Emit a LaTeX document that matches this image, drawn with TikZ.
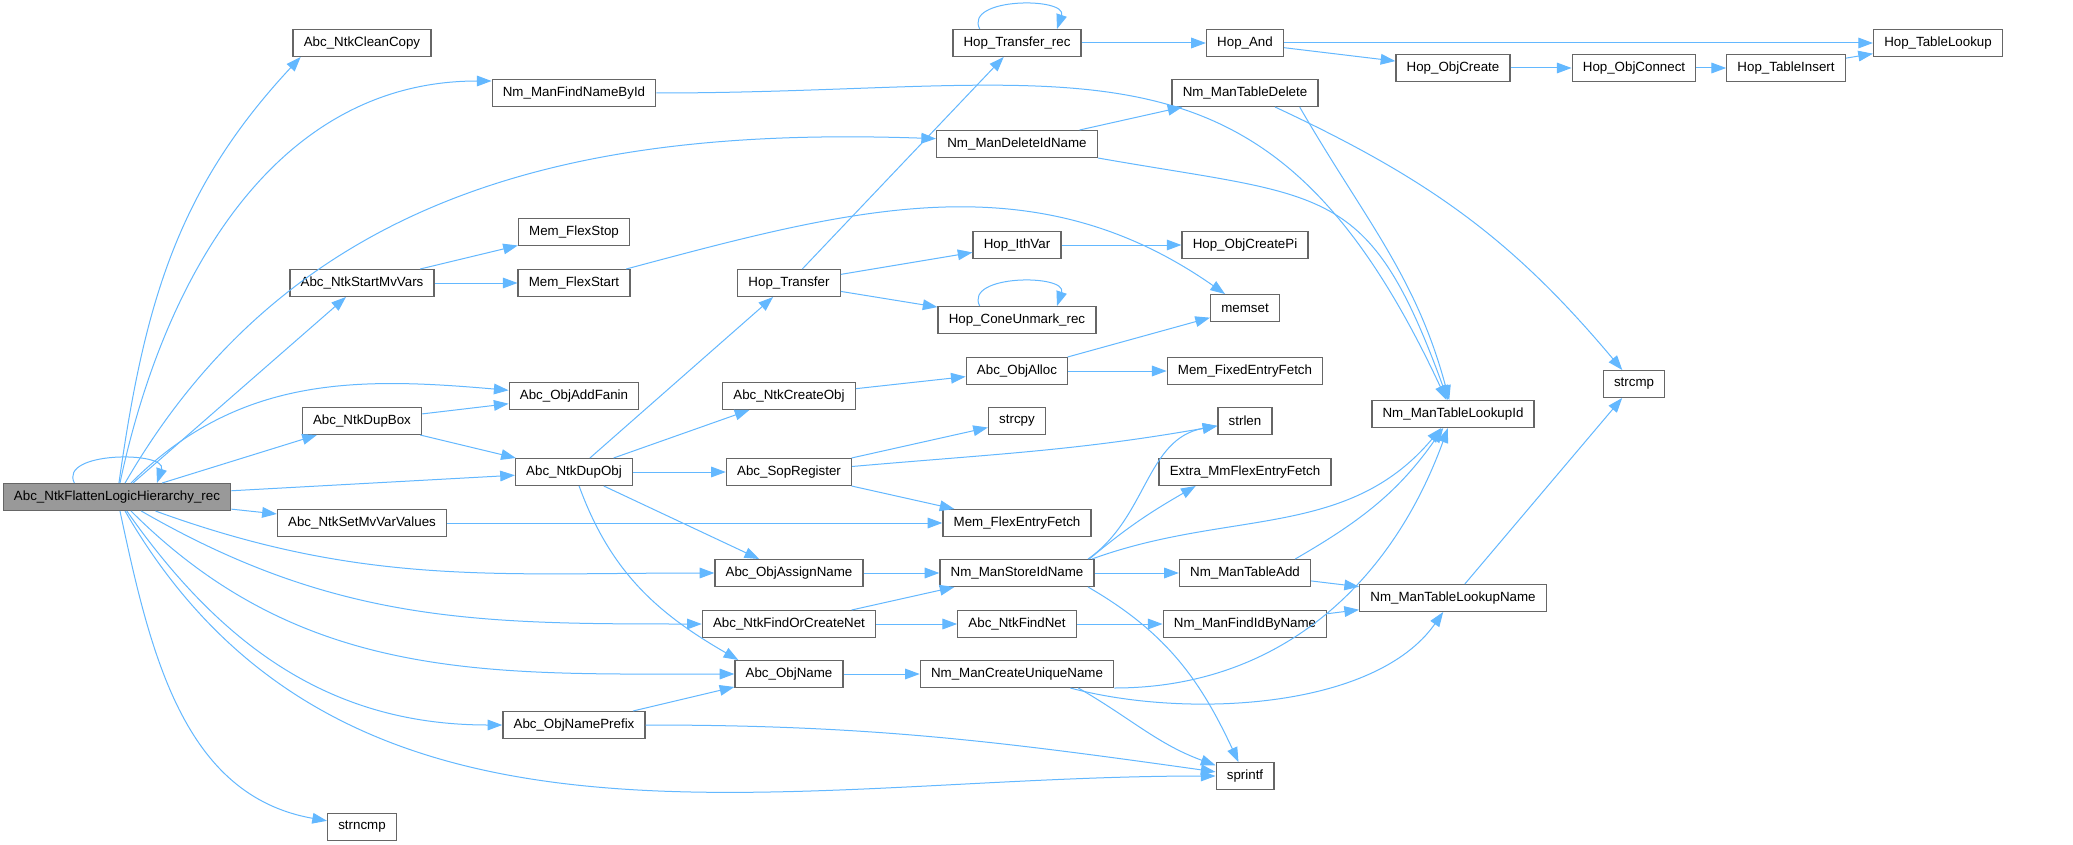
\documentclass[tikz,border=0pt]{standalone}
\usepackage{fontspec}
\setmainfont{Liberation Sans}
\usetikzlibrary{arrows.meta}
\definecolor{grey40}{HTML}{666666}
\definecolor{grey60}{HTML}{999999}
\definecolor{edgeblue}{HTML}{63B8FF}
\tikzset{
%Define standard arrow tip
    >={Triangle[length=11pt,width=8pt]},
%Define style for boxes
    punkt/.style={
           rectangle,
           draw=grey40, line width=1pt,
           fill=white,
           inner xsep=8pt,
           minimum height=20pt,
           font=\fontsize{10}{12}\selectfont},
%Define style for the root box
    punkt2/.style={
           punkt,
           fill=grey60},
% Define arrow style
    pil/.style={
           ->,
           draw=edgeblue,
           line width=0.75pt}
}
\begin{document}
\begin{tikzpicture}[x=0.75pt, y=-0.75pt]
 \fill[white] (0,0) rectangle (2073,845);
 \useasboundingbox (0,0) rectangle (2073,845);
% boxes, column by column
 \node[punkt2] (flat) at (117,497) {Abc\_NtkFlattenLogicHierarchy\_rec};
 \node[punkt] (cleancopy) at (362,43) {Abc\_NtkCleanCopy};
 \node[punkt] (startmv) at (362,283) {Abc\_NtkStartMvVars};
 \node[punkt] (dupbox) at (362,421) {Abc\_NtkDupBox};
 \node[punkt] (setmv) at (362,523) {Abc\_NtkSetMvVarValues};
 \node[punkt] (strncmp) at (362,827) {strncmp};
 \node[punkt] (findnamebyid) at (574,93) {Nm\_ManFindNameById};
 \node[punkt] (flexstop) at (574,232) {Mem\_FlexStop};
 \node[punkt] (flexstart) at (574,283) {Mem\_FlexStart};
 \node[punkt] (addfanin) at (574,396) {Abc\_ObjAddFanin};
 \node[punkt] (dupobj) at (574,472) {Abc\_NtkDupObj};
 \node[punkt] (nameprefix) at (574,725) {Abc\_ObjNamePrefix};
 \node[punkt] (hoptransfer) at (789,283) {Hop\_Transfer};
 \node[punkt] (createobj) at (789,396) {Abc\_NtkCreateObj};
 \node[punkt] (sopregister) at (789,472) {Abc\_SopRegister};
 \node[punkt] (assignname) at (789,573) {Abc\_ObjAssignName};
 \node[punkt] (findorcreate) at (789,624) {Abc\_NtkFindOrCreateNet};
 \node[punkt] (objname) at (789,674) {Abc\_ObjName};
 \node[punkt] (transferrec) at (1017,43) {Hop\_Transfer\_rec};
 \node[punkt] (deleteidname) at (1017,144) {Nm\_ManDeleteIdName};
 \node[punkt] (ithvar) at (1017,245) {Hop\_IthVar};
 \node[punkt] (coneunmark) at (1017,320) {Hop\_ConeUnmark\_rec};
 \node[punkt] (objalloc) at (1017,371) {Abc\_ObjAlloc};
 \node[punkt] (strcpy) at (1017,421) {strcpy};
 \node[punkt] (flexentry) at (1017,523) {Mem\_FlexEntryFetch};
 \node[punkt] (storeidname) at (1017,573) {Nm\_ManStoreIdName};
 \node[punkt] (findnet) at (1017,624) {Abc\_NtkFindNet};
 \node[punkt] (uniquename) at (1017,674) {Nm\_ManCreateUniqueName};
 \node[punkt] (hopand) at (1245,43) {Hop\_And};
 \node[punkt] (tabledelete) at (1245,93) {Nm\_ManTableDelete};
 \node[punkt] (createpi) at (1245,245) {Hop\_ObjCreatePi};
 \node[punkt] (memset) at (1245,308) {memset};
 \node[punkt] (fixedentry) at (1245,371) {Mem\_FixedEntryFetch};
 \node[punkt] (strlen) at (1245,421) {strlen};
 \node[punkt] (extraflex) at (1245,472) {Extra\_MmFlexEntryFetch};
 \node[punkt] (tableadd) at (1245,573) {Nm\_ManTableAdd};
 \node[punkt] (findidbyname) at (1245,624) {Nm\_ManFindIdByName};
 \node[punkt] (sprintf) at (1245,776) {sprintf};
 \node[punkt] (objcreate) at (1453,68) {Hop\_ObjCreate};
 \node[punkt] (lookupid) at (1453,414) {Nm\_ManTableLookupId};
 \node[punkt] (lookupname) at (1453,598) {Nm\_ManTableLookupName};
 \node[punkt] (objconnect) at (1634,68) {Hop\_ObjConnect};
 \node[punkt] (strcmp) at (1634,384) {strcmp};
 \node[punkt] (tableinsert) at (1786,68) {Hop\_TableInsert};
 \node[punkt] (tablelookup) at (1938,43) {Hop\_TableLookup};
% calls from the root
 \draw[pil] ([xshift=-32pt]flat.north) .. controls +(-12pt,24pt) and +(8pt,24pt) .. ([xshift=30pt]flat.north);
 \draw[pil] (flat) to[out=82, in=227] ([xshift=-46pt]cleancopy.south);
 \draw[pil] (flat) to[out=78, in=180] ([yshift=9pt]findnamebyid.west);
 \draw[pil] (flat) to[out=60, in=178] ([yshift=4pt]deleteidname.west);
 \draw[pil] (flat) -- (startmv);
 \draw[pil] (flat) to[out=45, in=175] (addfanin);
 \draw[pil] (flat) -- (dupbox);
 \draw[pil] (flat) -- (dupobj);
 \draw[pil] (flat) -- (setmv);
 \draw[pil] (flat) to[out=-20, in=180] (assignname);
 \draw[pil] (flat) to[out=-30, in=180] (findorcreate);
 \draw[pil] (flat) to[out=-45, in=180] (objname);
 \draw[pil] (flat) to[out=-55, in=180] (nameprefix);
 \draw[pil] (flat) to[out=-60, in=180] (sprintf);
 \draw[pil] (flat) to[out=-78, in=170] (strncmp);
% second column
 \draw[pil] (startmv) -- (flexstop);
 \draw[pil] (startmv) -- (flexstart);
 \draw[pil] (dupbox) -- (addfanin);
 \draw[pil] (dupbox) -- (dupobj);
 \draw[pil] (setmv) -- (flexentry);
% third column
 \draw[pil] (flexstart) to[out=15, in=145] (memset);
 \draw[pil] (findnamebyid) to[out=0, in=115, looseness=1.3] (lookupid);
 \draw[pil] (dupobj) -- (hoptransfer);
 \draw[pil] (dupobj) -- (createobj);
 \draw[pil] (dupobj) -- (sopregister);
 \draw[pil] (dupobj) -- (assignname);
 \draw[pil] (dupobj) to[out=-70, in=150] ([xshift=-38pt]objname.north);
 \draw[pil] (nameprefix) -- (objname);
 \draw[pil] (nameprefix) to[out=0, in=172] (sprintf);
% fourth column
 \draw[pil] (hoptransfer) -- (transferrec);
 \draw[pil] (hoptransfer) -- (ithvar);
 \draw[pil] (hoptransfer) -- (coneunmark);
 \draw[pil] (createobj) -- (objalloc);
 \draw[pil] (sopregister) -- (strcpy);
 \draw[pil] (sopregister) to[out=5, in=190] (strlen);
 \draw[pil] (sopregister) -- (flexentry);
 \draw[pil] (assignname) -- (storeidname);
 \draw[pil] (findorcreate) -- (storeidname);
 \draw[pil] (findorcreate) -- (findnet);
 \draw[pil] (objname) -- (uniquename);
% fifth column
 \draw[pil] ([xshift=-28pt]transferrec.north) .. controls +(-12pt,24pt) and +(8pt,24pt) .. ([xshift=30pt]transferrec.north);
 \draw[pil] (transferrec) -- (hopand);
 \draw[pil] (deleteidname) -- (tabledelete);
 \draw[pil] (deleteidname.south east) to[out=-10, in=110, looseness=1.4] (lookupid);
 \draw[pil] (ithvar) -- (createpi);
 \draw[pil] ([xshift=-28pt]coneunmark.north) .. controls +(-12pt,24pt) and +(8pt,24pt) .. ([xshift=30pt]coneunmark.north);
 \draw[pil] (objalloc) -- (memset);
 \draw[pil] (objalloc) -- (fixedentry);
 \draw[pil] ([xshift=-5pt]storeidname.north east) to[out=35, in=190] (strlen);
 \draw[pil] ([xshift=-4pt]storeidname.north east) to[out=40, in=210] ([xshift=-37pt]extraflex.south);
 \draw[pil] ([xshift=-2pt]storeidname.north east) to[out=20, in=230] (lookupid);
 \draw[pil] (storeidname) -- (tableadd);
 \draw[pil] ([xshift=-5pt]storeidname.south east) to[out=-30, in=115] (sprintf);
 \draw[pil] (findnet) -- (findidbyname);
 \draw[pil] (uniquename.south east) to[out=0, in=250] (lookupid);
 \draw[pil] ([xshift=40pt]uniquename.south) to[out=-15, in=235, looseness=0.8] (lookupname);
 \draw[pil] ([xshift=46pt]uniquename.south) to[out=-30, in=160] (sprintf);
% sixth column and right part
 \draw[pil] (hopand) -- (tablelookup);
 \draw[pil] (hopand) -- (objcreate);
 \draw[pil] ([xshift=41pt]tabledelete.south) to[out=-60, in=105] (lookupid);
 \draw[pil] (tabledelete) to[out=-25, in=130] (strcmp);
 \draw[pil] ([xshift=-12pt]tableadd.north east) to[out=30, in=235] (lookupid);
 \draw[pil] (tableadd) -- (lookupname);
 \draw[pil] (findidbyname) -- (lookupname);
 \draw[pil] (objcreate) -- (objconnect);
 \draw[pil] (objconnect) -- (tableinsert);
 \draw[pil] (tableinsert) -- (tablelookup);
 \draw[pil] (lookupname) -- (strcmp);
\end{tikzpicture}
\end{document}
